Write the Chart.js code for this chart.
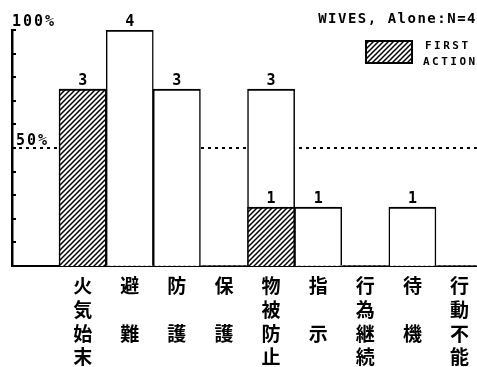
<!DOCTYPE html>
<html>
<head>
<meta charset="utf-8">
<script src="https://cdn.jsdelivr.net/npm/chart.js@4"></script>
<style>
  html, body { margin: 0; background: #fff; }
  #wrap { width: 477px; height: 367px; }
</style>
</head>
<body>
<div id="wrap"><canvas id="chart"></canvas></div>
<script>
// ----- data -----
const categories  = ['火気始末', '避難', '防護', '保護', '物被防止', '指示', '行為継続', '待機', '行動不能'];
const allCounts   = [3, 4, 3, 0, 3, 1, 0, 1, 0];
const firstAction = [3, 0, 0, 0, 1, 0, 0, 0, 0];
const sampleN     = 4;
const pctLabels   = [[4, '100%'], [2, '50%']];
const titleText   = 'WIVES, Alone:N=' + sampleN;
const legendLines = ['FIRST', 'ACTION'];

// two-character names are printed with a gap line between them
const rows = name => name.length === 2 ? [name[0], '', name[1]] : [...name];

const canvas = document.getElementById('chart');
const ctx0 = canvas.getContext('2d');

function makeHatch() {
  const c = document.createElement('canvas');
  c.width = c.height = 5;
  const g = c.getContext('2d');
  g.fillStyle = '#fff'; g.fillRect(0, 0, 5, 5);
  g.strokeStyle = '#000'; g.lineWidth = 1.5;
  g.beginPath();
  g.moveTo(-1, 6); g.lineTo(6, -1);
  g.moveTo(-1, 1); g.lineTo(1, -1);
  g.moveTo(4, 6);  g.lineTo(6, 4);
  g.stroke();
  return ctx0.createPattern(c, 'repeat');
}
const hatch = makeHatch();

const mono = 'bold 15px "DejaVu Sans Mono"';
const edge = c => (c.raw && c.raw.y) ? { top: 2, left: 1.5, right: 1.5, bottom: 0 } : 0;

// ----- extra drawing: 50% line, value labels, inner ticks, texts -----
const decor = {
  id: 'decor',
  beforeDatasetsDraw(chart) {
    const { ctx, chartArea: a, scales: { y } } = chart;
    const yy = y.getPixelForValue(sampleN / 2);
    ctx.save();
    ctx.strokeStyle = '#000'; ctx.lineWidth = 2; ctx.setLineDash([3, 4]);
    ctx.beginPath(); ctx.moveTo(a.left, yy); ctx.lineTo(a.right, yy); ctx.stroke();
    ctx.restore();
  },
  afterDatasetsDraw(chart) {
    const { ctx, chartArea: a, scales: { y } } = chart;
    ctx.save();
    ctx.fillStyle = '#000'; ctx.font = mono;
    ctx.textAlign = 'center'; ctx.textBaseline = 'alphabetic';
    const tot = chart.getDatasetMeta(1).data;
    tot.forEach((b, i) => { if (allCounts[i] > 0) ctx.fillText(allCounts[i], b.x, b.y - 4.5); });
    const fst = chart.getDatasetMeta(0).data;
    fst.forEach((b, i) => {
      if (firstAction[i] > 0 && firstAction[i] < allCounts[i]) ctx.fillText(firstAction[i], b.x, b.y - 4.5);
    });
    // inward ticks every 10%
    ctx.strokeStyle = '#000'; ctx.lineWidth = 2;
    for (let k = 1; k <= 10; k++) {
      const yy = Math.round(y.getPixelForValue(sampleN * k / 10));
      ctx.beginPath(); ctx.moveTo(a.left, yy); ctx.lineTo(a.left + 4, yy); ctx.stroke();
    }
    ctx.restore();
  },
  afterDraw(chart) {
    const { ctx, chartArea: a, scales: { y } } = chart;
    ctx.save();
    ctx.fillStyle = '#000';
    ctx.font = mono; ctx.letterSpacing = '2px';
    ctx.textAlign = 'left'; ctx.textBaseline = 'alphabetic';
    pctLabels.forEach(([v, t], i) => {
      ctx.fillText(t, a.left + (i ? 4 : 0), y.getPixelForValue(v) - (i ? 3 : 4));
    });
    ctx.font = 'bold 14px "DejaVu Sans Mono"'; ctx.letterSpacing = '1.5px';
    ctx.textAlign = 'right';
    ctx.fillText(titleText, 477, 23);
    // legend
    ctx.fillStyle = hatch;
    ctx.fillRect(365, 40, 48, 24);
    ctx.strokeStyle = '#000'; ctx.lineWidth = 2;
    ctx.strokeRect(366, 41, 46, 22);
    ctx.fillStyle = '#000';
    ctx.font = 'bold 11px "DejaVu Sans Mono"'; ctx.letterSpacing = '2.5px';
    ctx.textAlign = 'left';
    ctx.fillText(legendLines[0], 425, 49);
    ctx.fillText(legendLines[1], 423, 65);
    ctx.restore();
  }
};

new Chart(canvas, {
  type: 'bar',
  data: {
    datasets: [
      {
        label: 'FIRST ACTION',
        data: firstAction.map((v, i) => ({ x: i + 1, y: v })),
        backgroundColor: hatch, borderColor: '#000', borderWidth: edge,
        borderSkipped: 'start', grouped: false, order: 0,
        barPercentage: 1, categoryPercentage: 1
      },
      {
        label: 'ALL',
        data: allCounts.map((v, i) => ({ x: i + 1, y: v })),
        backgroundColor: '#fff', borderColor: '#000', borderWidth: edge,
        borderSkipped: 'start', grouped: false, order: 1,
        barPercentage: 1, categoryPercentage: 1
      }
    ]
  },
  options: {
    responsive: true,
    maintainAspectRatio: false,
    animation: false,
    layout: { padding: { top: 30, left: 12, right: 0, bottom: -10 } },
    plugins: { legend: { display: false }, tooltip: { enabled: false } },
    scales: {
      x: {
        type: 'linear', min: -0.5, max: 9.37, offset: false,
        afterBuildTicks: ax => { ax.ticks = categories.map((c, i) => ({ value: i + 1 })); },
        grid: { display: false, drawTicks: false },
        border: { color: '#000', width: 2 },
        ticks: {
          autoSkip: false, maxRotation: 0, padding: 8, color: '#000',
          font: { family: '"Noto Sans CJK JP"', size: 19, weight: 'bold', lineHeight: 1.25 },
          callback: v => rows(categories[v - 1] || '')
        }
      },
      y: {
        min: 0, max: sampleN,
        grid: { display: false, drawTicks: false },
        ticks: { display: false },
        border: { color: '#000', width: 2.5 }
      }
    }
  },
  plugins: [decor]
});
</script>
</body>
</html>
